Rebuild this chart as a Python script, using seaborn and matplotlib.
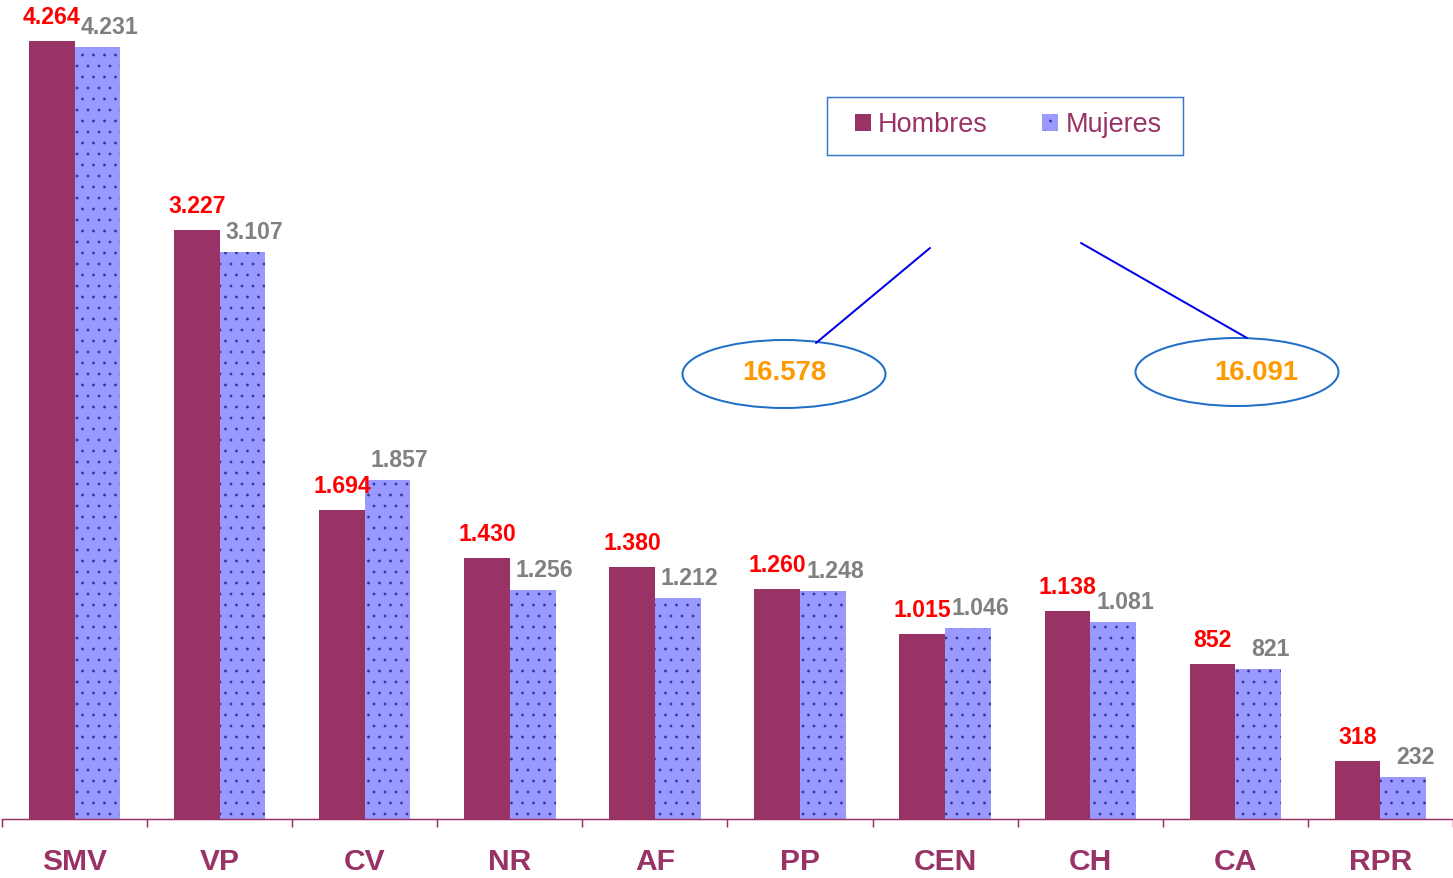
import numpy as np
import pandas as pd
import matplotlib
matplotlib.use('Agg')
import matplotlib.pyplot as plt
from matplotlib.patches import Patch, Ellipse, Rectangle
from matplotlib.lines import Line2D
import seaborn as sns

# datos
categorias = ['SMV', 'VP', 'CV', 'NR', 'AF', 'PP', 'CEN', 'CH', 'CA', 'RPR']
hombres = [4264, 3227, 1694, 1430, 1380, 1260, 1015, 1138, 852, 318]
mujeres = [4231, 3107, 1857, 1256, 1212, 1248, 1046, 1081, 821, 232]
series = ['Hombres', 'Mujeres']
totales = ['16.578', '16.091']

DPI = 132
W, H = 1453, 878
PT = 72 / DPI  # pixeles -> puntos

GRANATE = '#993366'
LILA = '#9999FF'
PUNTOS = '#333399'

sns.set_style('white')
plt.rcParams['font.family'] = ['Liberation Sans', 'DejaVu Sans']
plt.rcParams['hatch.linewidth'] = 0.3


def fmt(v):
    return f'{v:,}'.replace(',', '.')


df = pd.DataFrame({
    'categoria': categorias * 2,
    'valor': hombres + mujeres,
    'sexo': [series[0]] * len(hombres) + [series[1]] * len(mujeres),
})

fig = plt.figure(figsize=(W / DPI, H / DPI), dpi=DPI)
ax = fig.add_axes([2 / W, (H - 819) / H, 1451 / W, 819 / H])

sns.barplot(data=df, x='categoria', y='valor', hue='sexo', palette=[GRANATE, LILA],
            saturation=1, width=0.63, linewidth=0, errorbar=None, legend=False, ax=ax)

# textura de puntos para Mujeres
for bar in ax.containers[1]:
    bar.set_hatch('..')
    bar.set_edgecolor(PUNTOS)
    bar.set_linewidth(0)

ax.set_ylim(0, 4488)
ax.set_xlim(-0.5, len(categorias) - 0.5)
ax.set_xlabel('')
ax.set_ylabel('')
ax.set_yticks([])
for s in ['left', 'top', 'right']:
    ax.spines[s].set_visible(False)
ax.spines['bottom'].set_color(GRANATE)
ax.spines['bottom'].set_linewidth(1.5 * PT)

ax.set_xticks(np.arange(-0.5, len(categorias), 1), minor=True)
ax.tick_params(axis='x', which='minor', bottom=True, length=8 * PT, width=1.5 * PT,
               color=GRANATE, direction='out')
ax.tick_params(axis='x', which='major', length=0, pad=29 * PT)
for lab in ax.get_xticklabels():
    lab.set_fontsize(30 * PT)
    lab.set_fontweight('bold')
    lab.set_color(GRANATE)

# etiquetas de valores
for bar, v in zip(ax.containers[0], hombres):
    ax.annotate(fmt(v), (bar.get_x() + bar.get_width() / 2, bar.get_height()),
                xytext=(0, 12 * PT), textcoords='offset points', ha='center', va='bottom',
                color='red', fontweight='bold', fontsize=23 * PT)
for bar, v in zip(ax.containers[1], mujeres):
    ax.annotate(fmt(v), (bar.get_x() + bar.get_width() / 2, bar.get_height()),
                xytext=(12 * PT, 8 * PT), textcoords='offset points', ha='center', va='bottom',
                color='#808080', fontweight='bold', fontsize=23 * PT)

# leyenda con recuadro
fig.add_artist(Rectangle((827 / W, 1 - 155 / H), 356 / W, 58 / H, transform=fig.transFigure,
                         fill=False, ec='#3C78C8', lw=1.5 * PT))
handles = [Patch(fc=GRANATE, lw=0), Patch(fc=LILA, hatch='..', ec=PUNTOS, lw=0)]
fig.legend(handles, series, loc='center', bbox_to_anchor=(1008 / W, 1 - 125 / H), ncol=2,
           frameon=False, fontsize=27 * PT, handlelength=0.6, handleheight=0.6,
           handletextpad=0.27, columnspacing=2.0, labelcolor=GRANATE)

# totales en elipses
elipses = [(784, 374), (1237, 372)]
textos_x = [784, 1256]
lineas = [((930, 248), (816, 343)), ((1081, 243), (1247, 338))]
for (cx, cy), tx, total, ((x0, y0), (x1, y1)) in zip(elipses, textos_x, totales, lineas):
    fig.add_artist(Line2D([x0 / W, x1 / W], [1 - y0 / H, 1 - y1 / H], transform=fig.transFigure,
                          color='#0000EE', lw=2 * PT))
    fig.add_artist(Ellipse((cx / W, 1 - cy / H), 203 / W, 68 / H, transform=fig.transFigure,
                           fill=False, ec='#1F6FC8', lw=2 * PT))
    fig.text(tx / W, 1 - 380 / H, total, ha='center', va='baseline', color='#FF9900',
             fontweight='bold', fontsize=27.5 * PT)

fig.savefig('out.png', dpi=DPI)
